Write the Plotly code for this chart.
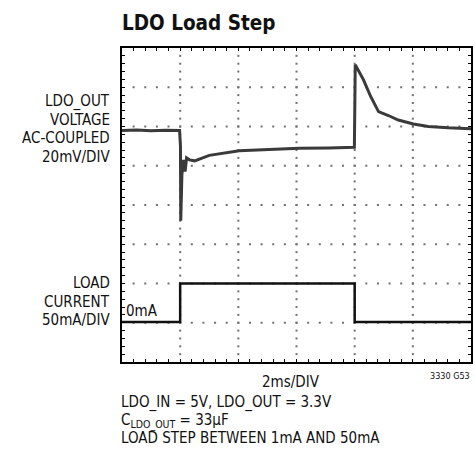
import plotly.graph_objects as go

# Time axis in ms (2 ms/DIV, 6 divisions)
t_out = [0.0, 0.5, 1.0, 1.5, 1.98, 2.01, 2.02, 2.06, 2.11, 2.17, 2.22, 2.32, 2.5,
         3.0, 4.03, 5.06, 6.09, 7.11, 7.99, 8.02, 8.3, 8.55, 8.82, 9.16, 9.5,
         10.02, 10.53, 11.21, 12.0]
# LDO_OUT AC-coupled deviation in mV (20 mV/DIV)
v_out = [0.0, 0.2, -0.2, 0.1, 0.0, -7.9, -46.0, -22.6, -15.0, -21.0, -14.0, -15.0, -15.5,
         -12.7, -10.4, -9.6, -9.1, -8.9, -8.6, 33.5, 25.9, 17.3, 9.6, 7.6, 5.3,
         3.3, 2.0, 1.3, 0.8]

# Load current in mA (50 mA/DIV)
t_load = [0.0, 2.0, 2.0, 8.0, 8.0, 12.0]
i_load = [1, 1, 50, 50, 1, 1]

# Scope graticule: 6 x 8 divisions, 5 minor steps per division
X_RANGE = [0, 12]
X_DIV = 2.0
V_RANGE = [-118, 42]
V_DIV = 20.0
I_RANGE = [-50, 350]
MINOR = 5

W, H = 475, 456
L, R, T, B = 122, 473, 47.5, 362.5

FONT = "DejaVu Sans Condensed, DejaVu Sans, sans-serif"


def px(x):
    return (x - L) / (R - L)


def py(y):
    return (B - y) / (B - T)


# Dotted graticule points built from the axis divisions
nx = int(round((X_RANGE[1] - X_RANGE[0]) / X_DIV))
ny = int(round((V_RANGE[1] - V_RANGE[0]) / V_DIV))
gx, gy = [], []
for j in range(1, ny):
    yv = V_RANGE[0] + j * V_DIV
    for k in range(1, nx * MINOR):
        gx.append(X_RANGE[0] + k * X_DIV / MINOR)
        gy.append(yv)
for i in range(1, nx):
    xv = X_RANGE[0] + i * X_DIV
    for k in range(1, ny * MINOR):
        gx.append(xv)
        gy.append(V_RANGE[0] + k * V_DIV / MINOR)

fig = go.Figure()
fig.add_trace(go.Scatter(x=gx, y=gy, mode="markers", hoverinfo="skip",
                         marker=dict(symbol="square", size=2, color="#707070",
                                     line=dict(width=0))))
fig.add_trace(go.Scatter(x=t_out, y=v_out, mode="lines",
                         line=dict(color="#3a3a3a", width=3), yaxis="y"))
fig.add_trace(go.Scatter(x=t_load, y=i_load, mode="lines",
                         line=dict(color="#111111", width=2.5), yaxis="y2"))

fig.update_layout(
    width=W, height=H,
    margin=dict(l=L, r=W - R, t=T, b=H - B, pad=0),
    paper_bgcolor="white", plot_bgcolor="white",
    showlegend=False,
    xaxis=dict(range=X_RANGE, dtick=X_DIV, tick0=0, showticklabels=False,
               showgrid=False, zeroline=False,
               showline=True, linecolor="black", linewidth=2, mirror="allticks",
               ticks="inside", ticklen=3, tickcolor="black", tickwidth=1,
               minor=dict(dtick=X_DIV / MINOR, ticks="inside", ticklen=3,
                          tickcolor="black", tickwidth=1, showgrid=False)),
    yaxis=dict(range=V_RANGE, dtick=V_DIV, tick0=V_RANGE[0], showticklabels=False,
               showgrid=False, zeroline=False,
               showline=True, linecolor="black", linewidth=2, mirror="allticks",
               ticks="inside", ticklen=3, tickcolor="black", tickwidth=1,
               minor=dict(dtick=V_DIV / MINOR, tick0=V_RANGE[0], ticks="inside",
                          ticklen=3, tickcolor="black", tickwidth=1,
                          showgrid=False)),
    yaxis2=dict(range=I_RANGE, overlaying="y", showgrid=False,
                showticklabels=False, zeroline=False, showline=False, ticks=""),
)

ann = []


def label(text, x, y, size, xanchor="left", bold=False):
    ann.append(dict(text=f"<b>{text}</b>" if bold else text,
                    x=px(x), y=py(y), xref="paper", yref="paper",
                    xanchor=xanchor, yanchor="middle",
                    align=xanchor if xanchor != "center" else "center",
                    showarrow=False,
                    font=dict(family=FONT, size=size, color="#111111")))


label("LDO Load Step", 120, 22, 20.5, bold=True)
for text, y in zip(["LDO_OUT", "VOLTAGE", "AC-COUPLED", "20mV/DIV"],
                   [101.5, 119.8, 138.2, 156.5]):
    label(text, 112, y, 15, xanchor="right")
for text, y in zip(["LOAD", "CURRENT", "50mA/DIV"], [283.5, 302, 320.5]):
    label(text, 112, y, 15, xanchor="right")
label("0mA", 124, 311, 15)
label("2ms/DIV", 292, 383, 15, xanchor="center")
label("3330 G53", 474, 377, 9, xanchor="right")
label("LDO_IN = 5V, LDO_OUT = 3.3V", 119, 403, 15)
label("C<sub>LDO_OUT</sub> = 33µF", 119, 422, 15)
label("LOAD STEP BETWEEN 1mA AND 50mA", 119, 439, 15)

fig.update_layout(annotations=ann)
fig.write_html("out.html")
